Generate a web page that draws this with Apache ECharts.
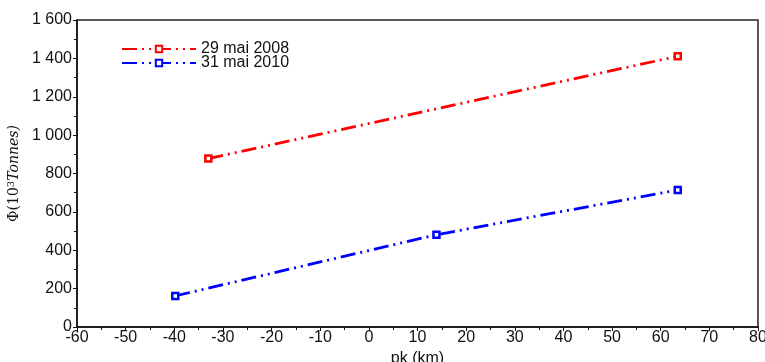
<!DOCTYPE html>
<html><head><meta charset="utf-8">
<script src="https://cdn.jsdelivr.net/npm/echarts@6/dist/echarts.min.js"></script>
<style>html,body{margin:0;padding:0;background:#fff}#c{width:765px;height:362px}</style>
</head><body><div id="c"></div>
<script>
const seriesNames = ['29 mai 2008', '31 mai 2010'];
const pk2008 = [-33, 63.5];
const phi2008 = [878, 1411];
const pk2010 = [-39.8, 13.9, 63.5];
const phi2010 = [162, 481, 714];
const colors = ['#ff0000', '#0000ff'];

const fmt = v => {
  const s = String(Math.round(v));
  return s.length > 3 ? s.slice(0, s.length - 3) + ' ' + s.slice(-3) : s;
};
const FONT = "'Liberation Sans Narrow', 'Liberation Sans', Arial, sans-serif";
const dash = [15, 5, 2, 5, 2, 5];
function mk(name, xs, ys, color) {
  return {
    name, type: 'line', data: xs.map((x, i) => [x, ys[i]]),
    symbol: 'rect', symbolSize: 6, showAllSymbol: true,
    lineStyle: { color, width: 2.8, type: dash },
    itemStyle: { color: '#fff', borderColor: color, borderWidth: 2.5 },
    emphasis: { disabled: true }
  };
}
const chart = echarts.init(document.getElementById('c'));
chart.setOption({
  animation: false,
  textStyle: { fontFamily: FONT },
  grid: { left: 77, right: 7, top: 20, bottom: 35, show: true, borderColor: '#222', borderWidth: 1.5, outerBoundsMode: 'none', containLabel: false },
  legend: {
    left: 116, top: 36, orient: 'vertical', itemGap: -2, itemWidth: 74, itemHeight: 8,
    textStyle: { fontSize: 16, lineHeight: 15, color: '#111', fontFamily: FONT, padding: [0, 0, 0, 0] },
    data: seriesNames
  },
  xAxis: {
    type: 'value', min: -60, max: 80, interval: 10,
    name: 'pk (km)', nameLocation: 'middle', nameGap: 21,
    nameTextStyle: { fontSize: 16, color: '#111', fontFamily: FONT },
    axisLine: { onZero: false, lineStyle: { color: '#111', width: 1.5 } },
    axisTick: { show: true, length: 4, lineStyle: { color: '#111' } },
    minorTick: { show: true, splitNumber: 2, length: 3, lineStyle: { color: '#111' } },
    axisLabel: { fontSize: 16, color: '#111', margin: 3, fontFamily: FONT },
    splitLine: { show: false }
  },
  yAxis: {
    type: 'value', min: 0, max: 1600, interval: 200,
    name: '{a|Φ(10}{s|3}{i|Tonnes)}', nameLocation: 'middle', nameGap: 54, nameRotate: 90,
    nameTextStyle: {
      rich: {
        a: { fontFamily: 'DejaVu Serif, serif', fontSize: 14, color: '#111' },
        s: { fontFamily: 'DejaVu Serif, serif', fontSize: 10, color: '#111', verticalAlign: 'top', padding: [0, 0, 6, 0] },
        i: { fontFamily: 'DejaVu Serif, serif', fontStyle: 'italic', fontSize: 14, color: '#111' }
      }
    },
    axisLine: { show: true, onZero: false, lineStyle: { color: '#111', width: 1.5 } },
    axisTick: { show: true, length: 4, lineStyle: { color: '#111' } },
    minorTick: { show: true, splitNumber: 2, length: 3, lineStyle: { color: '#111' } },
    axisLabel: { fontSize: 16, color: '#111', margin: 5, formatter: fmt, fontFamily: FONT },
    splitLine: { show: false }
  },
  series: [
    mk(seriesNames[0], pk2008, phi2008, colors[0]),
    mk(seriesNames[1], pk2010, phi2010, colors[1])
  ]
});
</script></body></html>
